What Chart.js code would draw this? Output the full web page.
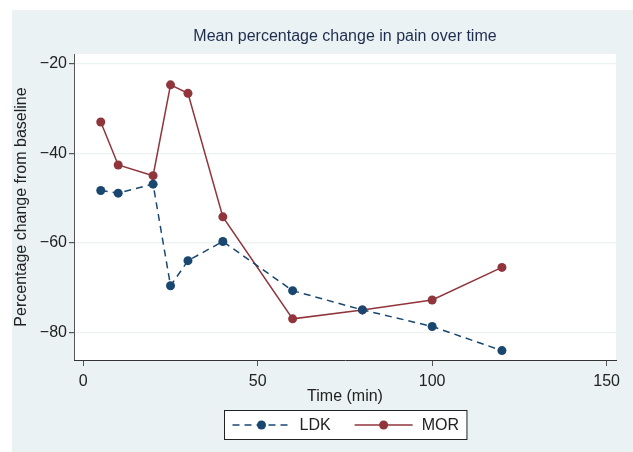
<!DOCTYPE html>
<html>
<head>
<meta charset="utf-8">
<script src="https://cdn.jsdelivr.net/npm/chart.js@4"></script>
<style>
  body { margin: 0; background: #fff; }
  #wrap { width: 633px; height: 452px; }
</style>
</head>
<body>
<div id="wrap"><canvas id="pain-chart" width="633" height="452"></canvas></div>
<script>
const times = [5, 10, 20, 25, 30, 40, 60, 80, 100, 120];
const ldk = [-48.3, -48.9, -46.9, -69.6, -64.0, -59.7, -70.7, -75.0, -78.7, -84.1];
const mor = [-33.0, -42.6, -45.0, -24.7, -26.6, -54.2, -77.0, -75.0, -72.8, -65.5];
const xTicks = [0, 50, 100, 150];
const yTicks = [-80, -60, -40, -20];
const chartTitle = "Mean percentage change in pain over time";

const FONT = "'Liberation Sans', Arial, Helvetica, sans-serif";
const BG = "#eaf2f3";

function pts(ys) {
  return times.map((t, i) => ({ x: t, y: ys[i] }));
}

// stata-like graph region: white outer margin, light blue panel, white plot area,
// and the title centred over the plot region
const panel = {
  id: "panel",
  beforeDraw(chart) {
    const { ctx, chartArea: a } = chart;
    ctx.save();
    ctx.fillStyle = "#fff";
    ctx.fillRect(0, 0, chart.width, chart.height);
    ctx.fillStyle = BG;
    ctx.fillRect(12, 10, chart.width - 12, chart.height - 10);
    ctx.fillStyle = "#fff";
    ctx.fillRect(a.left, a.top, a.right - a.left, a.bottom - a.top);
    ctx.fillStyle = "#1e2d4f";
    ctx.font = "16px " + FONT;
    ctx.textAlign = "center";
    ctx.textBaseline = "middle";
    ctx.fillText(chartTitle, (a.left + a.right) / 2, 37);
    ctx.restore();
  },
};

// boxed legend under the x title
const boxLegend = {
  id: "boxLegend",
  afterDraw(chart) {
    const { ctx, chartArea: a } = chart;
    const sets = chart.data.datasets;
    ctx.save();
    ctx.font = "16px " + FONT;
    const sample = 58, gap = 9, between = 24, padX = 8;
    let w = padX * 2;
    sets.forEach((ds, i) => {
      w += sample + gap + ctx.measureText(ds.label).width;
      if (i < sets.length - 1) w += between;
    });
    const cx = (a.left + a.right) / 2;
    const x0 = Math.round(cx - w / 2) + 0.5, y0 = 410.5, h = 29;
    ctx.fillStyle = "#fff";
    ctx.fillRect(x0, y0, w, h);
    ctx.strokeStyle = "#222";
    ctx.lineWidth = 1;
    ctx.strokeRect(x0, y0, w, h);
    const cy = y0 + h / 2;
    let x = x0 + padX;
    sets.forEach((ds) => {
      ctx.strokeStyle = ds.borderColor;
      ctx.lineWidth = ds.borderWidth;
      ctx.setLineDash(ds.borderDash || []);
      ctx.beginPath();
      ctx.moveTo(x, cy);
      ctx.lineTo(x + sample, cy);
      ctx.stroke();
      ctx.setLineDash([]);
      ctx.fillStyle = ds.pointBackgroundColor;
      ctx.beginPath();
      ctx.arc(x + sample / 2, cy, ds.pointRadius, 0, Math.PI * 2);
      ctx.fill();
      x += sample + gap;
      ctx.fillStyle = "#222";
      ctx.textBaseline = "middle";
      ctx.fillText(ds.label, x, cy + 1);
      x += ctx.measureText(ds.label).width + between;
    });
    ctx.restore();
  },
};

new Chart(document.getElementById("pain-chart"), {
  type: "line",
  data: {
    datasets: [
      {
        label: "LDK",
        data: pts(ldk),
        borderColor: "#1a476f",
        pointBackgroundColor: "#1a476f",
        pointBorderColor: "#1a476f",
        borderWidth: 1.5,
        borderDash: [7, 5],
        pointRadius: 4.5,
        pointBorderWidth: 0,
        tension: 0,
      },
      {
        label: "MOR",
        data: pts(mor),
        borderColor: "#90353b",
        pointBackgroundColor: "#90353b",
        pointBorderColor: "#90353b",
        borderWidth: 1.5,
        pointRadius: 4.5,
        pointBorderWidth: 0,
        tension: 0,
      },
    ],
  },
  options: {
    responsive: false,
    animation: false,
    events: [],
    layout: { padding: { left: 0, right: 17, top: 54, bottom: 46 } },
    plugins: {
      legend: { display: false },
      tooltip: { enabled: false },
      title: { display: false },
    },
    scales: {
      x: {
        type: "linear",
        min: -2.67,
        max: 152.7,
        afterBuildTicks: (s) => { s.ticks = xTicks.map((v) => ({ value: v })); },
        afterFit: (s) => { s.height = 46; },
        border: { display: true, color: "#333", width: 1 },
        grid: { drawOnChartArea: false, drawTicks: true, tickLength: 6, tickColor: "#555" },
        ticks: { color: "#222", padding: 6, maxRotation: 0, font: { family: FONT, size: 16 } },
        title: {
          display: true,
          text: "Time (min)",
          color: "#222",
          font: { family: FONT, size: 16 },
          padding: { top: 0, bottom: 0 },
        },
      },
      y: {
        type: "linear",
        min: -86.2,
        max: -17.8,
        afterBuildTicks: (s) => { s.ticks = yTicks.map((v) => ({ value: v })); },
        afterFit: (s) => { s.width = 74; },
        border: { display: true, color: "#555", width: 1 },
        grid: { color: BG, lineWidth: 1.2, drawTicks: true, tickLength: 5, tickColor: "#555" },
        ticks: {
          color: "#222",
          padding: 2,
          font: { family: FONT, size: 16 },
          callback: (v) => String(v).replace("-", "\u2212"),
        },
        title: {
          display: true,
          text: "Percentage change from baseline",
          color: "#222",
          font: { family: FONT, size: 16 },
          padding: { top: 12, bottom: 0 },
        },
      },
    },
  },
  plugins: [panel, boxLegend],
});
</script>
</body>
</html>
